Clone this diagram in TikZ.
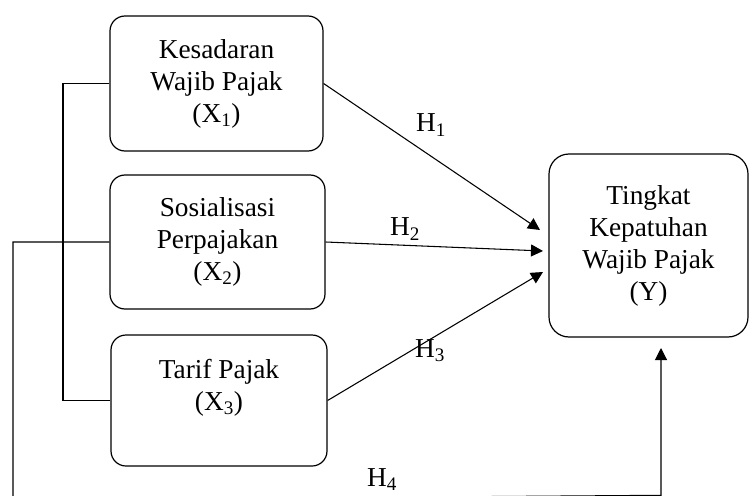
\documentclass[tikz,border=0pt]{standalone}
\usepackage{fontspec}
\setmainfont{Liberation Serif}
\usetikzlibrary{arrows.meta}
\begin{document}
\begin{tikzpicture}[x=0.75pt,y=-0.75pt,
  box/.style={draw,line width=0.9pt,rounded corners=11.25pt,align=center,inner sep=0pt,
    font=\fontsize{20.5}{24}\selectfont},
  conn/.style={line width=0.8pt},
  arr/.style={conn,-{Triangle[length=9pt,width=9pt]}},
  hlab/.style={font=\fontsize{20.5}{24}\selectfont,inner sep=0pt}]
\clip (0,0) rectangle (750,496);
\useasboundingbox (0,0) rectangle (750,496);
\node[box,minimum width=159.75pt,minimum height=101.25pt] (x1) at (216.5,83.5) {Kesadaran\\Wajib Pajak\\(X\textsubscript{1})};
\node[box,minimum width=161.25pt,minimum height=100.5pt] (x2) at (217.5,242) {Sosialisasi\\Perpajakan\\(X\textsubscript{2})};
\node[box,minimum width=162pt,minimum height=98.25pt] (x3) at (219,400.5) {Tarif Pajak\\(X\textsubscript{3})\\\mbox{}};
\node[box,rounded corners=15pt,minimum width=149.25pt,minimum height=137.25pt] (y) at (648.5,245.5) {Tingkat\\Kepatuhan\\Wajib Pajak\\(Y)};
\coordinate (t1) at (540,230);
\coordinate (t2) at (543,251);
\coordinate (t3) at (543,272);
\coordinate (t4) at (661,348);
\coordinate (l1) at (63,83.5);
\coordinate (l2) at (13,242);
\coordinate (b1) at (13,500);
\coordinate (b2) at (661,495.3);
\draw[arr] (x1.east) -- (t1);
\draw[arr] (x2.east) -- (t2);
\draw[arr] (x3.east) -- (t3);
\draw[conn] (x1.west) -- (l1) |- (x3.west);
\draw[arr] (x2.west) -- (l2) -- (b1) -- (b2) -- (t4);
\node[hlab] (h1) at (431,125) {H\textsubscript{1}};
\node[hlab] (h2) at (405,229) {H\textsubscript{2}};
\node[hlab] (h3) at (430,351) {H\textsubscript{3}};
\node[hlab] (h4) at (382,479.5) {H\textsubscript{4}};
\end{tikzpicture}
\end{document}
